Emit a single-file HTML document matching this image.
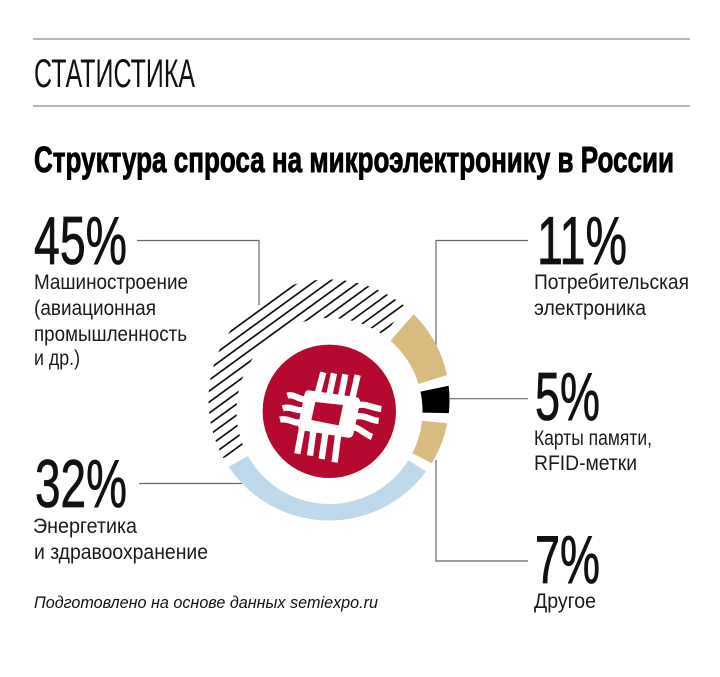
<!DOCTYPE html>
<html lang="ru">
<head>
<meta charset="utf-8">
<title>Структура спроса на микроэлектронику в России</title>
<style>
html,body{margin:0;padding:0;background:#fff;}
svg{display:block;}
text{font-family:"Liberation Sans","Noto Sans CJK SC",sans-serif;fill:#111;}
.pct{font-size:68px;stroke:#111;stroke-width:.8;}
.desc{font-size:21px;fill:#1a1a1a;}
.leader{stroke:#666;stroke-width:1.2;fill:none;}
.rule{stroke:#8c8c8c;stroke-width:1.3;}
</style>
</head>
<body>
<svg id="chart" width="720" height="677" viewBox="0 0 720 677" xmlns="http://www.w3.org/2000/svg">
  <rect width="720" height="677" fill="#fff"/>
  <line class="rule" x1="33" y1="39" x2="690" y2="39"/>
  <text x="34" y="87" font-size="40" textLength="161" lengthAdjust="spacingAndGlyphs">СТАТИСТИКА</text>
  <line class="rule" x1="33" y1="106" x2="690" y2="106"/>
  <text x="34" y="172" font-size="36" font-weight="bold" textLength="640" lengthAdjust="spacingAndGlyphs" style="fill:#000;stroke:#000;stroke-width:.9">Структура спроса на микроэлектронику в России</text>

  <g>
    <polyline class="leader" points="137,240.5 259,240.5 259,305"/>
    <polyline class="leader" points="528,240.5 436,240.5 436,345"/>
    <polyline class="leader" points="528,398.7 450,398.7"/>
    <polyline class="leader" points="436,460 436,561 528,561"/>
    <polyline class="leader" points="139,483.5 242,483.5"/>
  </g>

  <g id="donut"></g>

  <circle cx="329.3" cy="411.3" r="66.7" fill="#b5092f"/>
  <g transform="translate(260 345) scale(.3333)">
    <g fill="none" stroke="#fff" stroke-width="19">
      <path d="M172 150L190 82M207 155L222 85M242 160L256 88M276 165L293 90"/>
      <path d="M126 250L112 326M160 258L150 332M196 266L185 342M234 272L224 352"/>
      <path d="M140 160C120 170 105 145 82 152M130 195C110 200 92 182 68 190M122 232C105 238 85 218 60 224"/>
      <path d="M290 182C312 172 340 190 364 192M284 215C310 208 330 225 356 228M272 245C295 245 315 268 336 276"/>
    </g>
    <path fill="#fff" fill-rule="evenodd" d="M148 136L287 156Q302 158 300 173L281 264Q278 280 262 278L128 256Q112 253 115 238L133 150Q136 134 148 136ZM166 171L249 180L236 241L154 225Z"/>
  </g>

  <g>
    <text class="pct" data-slice="4" x="34" y="264" textLength="93" lengthAdjust="spacingAndGlyphs">45%</text>
    <text class="desc" x="34" y="289" textLength="154" lengthAdjust="spacingAndGlyphs">Машиностроение</text>
    <text class="desc" x="34" y="315" textLength="122" lengthAdjust="spacingAndGlyphs">(авиационная</text>
    <text class="desc" x="34" y="341" textLength="153" lengthAdjust="spacingAndGlyphs">промышленность</text>
    <text class="desc" x="34" y="365" textLength="46" lengthAdjust="spacingAndGlyphs">и др.)</text>
  </g>
  <g>
    <text class="pct" data-slice="3" x="35" y="507" textLength="92" lengthAdjust="spacingAndGlyphs">32%</text>
    <text class="desc" x="33" y="533" textLength="104" lengthAdjust="spacingAndGlyphs">Энергетика</text>
    <text class="desc" x="34" y="559" textLength="174" lengthAdjust="spacingAndGlyphs">и здравоохранение</text>
  </g>
  <g>
    <text class="pct" data-slice="0" x="537" y="264" textLength="90" lengthAdjust="spacingAndGlyphs">11%</text>
    <text class="desc" x="534" y="289" textLength="155" lengthAdjust="spacingAndGlyphs">Потребительская</text>
    <text class="desc" x="534" y="315" textLength="112" lengthAdjust="spacingAndGlyphs">электроника</text>
  </g>
  <g>
    <text class="pct" data-slice="1" x="535" y="420" textLength="65" lengthAdjust="spacingAndGlyphs">5%</text>
    <text class="desc" x="534" y="445" textLength="118" lengthAdjust="spacingAndGlyphs">Карты памяти,</text>
    <text class="desc" x="534" y="470" textLength="103" lengthAdjust="spacingAndGlyphs">RFID-метки</text>
  </g>
  <g>
    <text class="pct" data-slice="2" x="535" y="583" textLength="65" lengthAdjust="spacingAndGlyphs">7%</text>
    <text class="desc" x="534" y="608" textLength="62" lengthAdjust="spacingAndGlyphs">Другое</text>
  </g>
  <text x="34" y="608" font-size="17" font-style="italic" textLength="344" lengthAdjust="spacingAndGlyphs">Подготовлено на основе данных semiexpo.ru</text>
</svg>
<script>
const categories = ['consumer-electronics', 'memory-cards', 'other', 'energy', 'machinery'];
const values = [11, 5, 7, 32, 45];
const arcDegreesPerPercent = [2.91, 2.6, 3, 3.72, 3.33];
const sliceFills = ['#d9bb80', '#000000', '#d9bb80', '#bfd9ec', 'hatch'];

const SVG_NS = 'http://www.w3.org/2000/svg';
const donut = document.getElementById('donut');
const START_DEG = 41, GAP_DEG = 5;
const hub = {x: 329.5, y: 411, r: 93};
const rim = {x: 329, y: 400, r: 120.5};

function angleScale(value, i) { return value * arcDegreesPerPercent[i]; }
function dir(deg) { const a = deg * Math.PI / 180; return {x: Math.sin(a), y: -Math.cos(a)}; }
function innerPoint(deg) { const d = dir(deg); return [hub.x + hub.r * d.x, hub.y + hub.r * d.y]; }
function outerPoint(deg) {
  const d = dir(deg), fx = hub.x - rim.x, fy = hub.y - rim.y;
  const b = fx * d.x + fy * d.y;
  const t = -b + Math.sqrt(b * b - fx * fx - fy * fy + rim.r * rim.r);
  return [hub.x + t * d.x, hub.y + t * d.y];
}
function slicePoints(a0, a1) {
  const outer = [], inner = [], steps = Math.max(2, Math.ceil(a1 - a0));
  for (let k = 0; k <= steps; k++) {
    const a = a0 + (a1 - a0) * k / steps;
    outer.push(outerPoint(a));
    inner.unshift(innerPoint(a));
  }
  return outer.concat(inner).map(p => p[0].toFixed(2) + ',' + p[1].toFixed(2)).join(' ');
}

let cursor = START_DEG;
values.forEach(function (v, i) {
  const a0 = cursor, a1 = cursor + angleScale(v, i);
  cursor = a1 + GAP_DEG;
  const pts = slicePoints(a0, a1);
  if (sliceFills[i] !== 'hatch') {
    const poly = document.createElementNS(SVG_NS, 'polygon');
    
    
    poly.setAttribute('points', pts);
    poly.setAttribute('fill', sliceFills[i]);
    donut.appendChild(poly);
    return;
  }
  const clip = document.createElementNS(SVG_NS, 'clipPath');
  clip.setAttribute('id', 'hatch-clip-' + i);
  const clipPoly = document.createElementNS(SVG_NS, 'polygon');
  clipPoly.setAttribute('points', pts);
  clip.appendChild(clipPoly);
  donut.appendChild(clip);
  const group = document.createElementNS(SVG_NS, 'g');
  
  
  group.setAttribute('clip-path', 'url(#hatch-clip-' + i + ')');
  const slope = 0.727, stepY = 11;
  for (let n = -24; n <= 24; n++) {
    const yAt0 = 499.1 + n * stepY;
    const line = document.createElementNS(SVG_NS, 'line');
    line.setAttribute('x1', 180);
    line.setAttribute('y1', yAt0 - slope * 180);
    line.setAttribute('x2', 480);
    line.setAttribute('y2', yAt0 - slope * 480);
    line.setAttribute('stroke', '#111');
    line.setAttribute('stroke-width', '1.7');
    group.appendChild(line);
  }
  donut.appendChild(group);
});

document.querySelectorAll('.pct').forEach(function (t) {
  t.textContent = values[+t.getAttribute('data-slice')] + '%';
});
</script>
</body>
</html>
